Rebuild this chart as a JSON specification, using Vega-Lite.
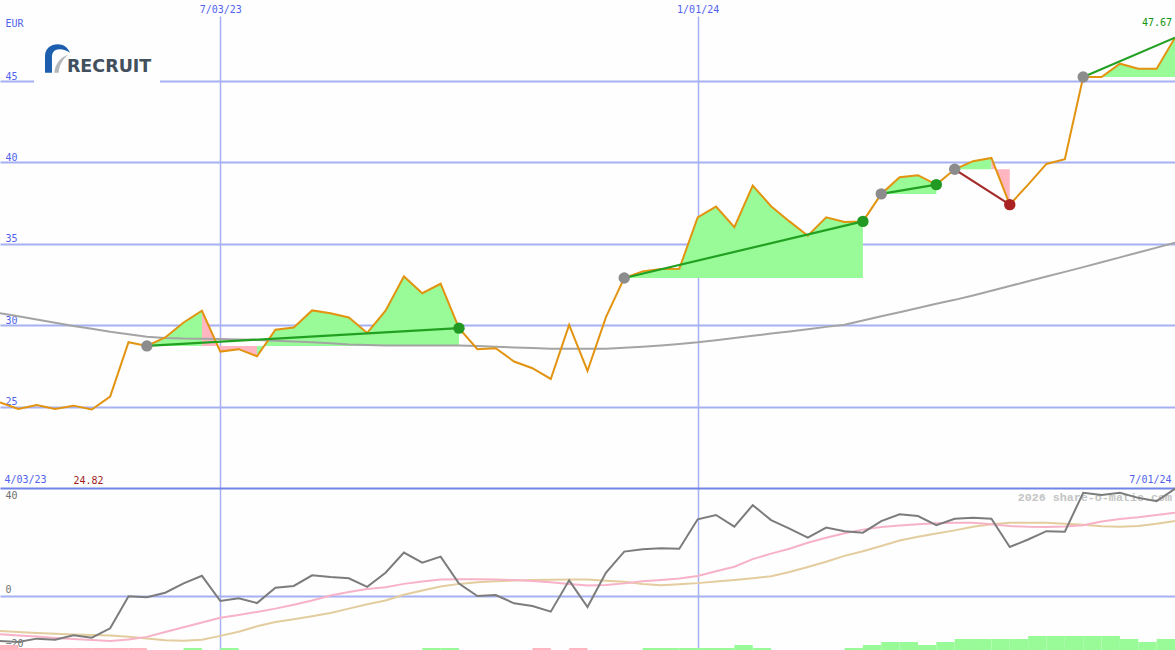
{
  "$schema": "https://vega.github.io/schema/vega-lite/v6.json",
  "background": "#fdfefd",
  "padding": {"top": 4, "left": 0, "right": 0, "bottom": 0},
  "spacing": 0,
  "bounds": "flush",
  "config": {"view": {"stroke": null}, "axis": {"labelBound": false}},
  "datasets": {
    "prices": [
      {"d":"2023-04-10","p":25.25,"ma":30.74,"osc":-17.8,"pk":-15.2,"tn":-13.9},
      {"d":"2023-04-17","p":24.86,"ma":30.55,"osc":-18.2,"pk":-15.7,"tn":-14.3},
      {"d":"2023-04-24","p":25.1,"ma":30.35,"osc":-16.9,"pk":-16.1,"tn":-14.7},
      {"d":"2023-05-01","p":24.86,"ma":30.15,"osc":-17.3,"pk":-16.6,"tn":-15.0},
      {"d":"2023-05-08","p":25.06,"ma":29.95,"osc":-15.6,"pk":-17.0,"tn":-15.3},
      {"d":"2023-05-15","p":24.82,"ma":29.78,"osc":-16.5,"pk":-17.4,"tn":-15.5},
      {"d":"2023-05-22","p":25.62,"ma":29.6,"osc":-12.8,"pk":-17.8,"tn":-15.7},
      {"d":"2023-05-29","p":28.96,"ma":29.45,"osc":-0.1,"pk":-17.2,"tn":-16.2},
      {"d":"2023-06-05","p":28.73,"ma":29.3,"osc":-0.5,"pk":-16.2,"tn":-16.8},
      {"d":"2023-06-12","p":29.25,"ma":29.22,"osc":1.3,"pk":-14.3,"tn":-17.5},
      {"d":"2023-06-19","p":30.17,"ma":29.18,"osc":5.0,"pk":-12.4,"tn":-17.7},
      {"d":"2023-06-26","p":30.89,"ma":29.17,"osc":8.0,"pk":-10.5,"tn":-17.3},
      {"d":"2023-07-03","p":28.38,"ma":29.15,"osc":-2.0,"pk":-8.6,"tn":-15.8},
      {"d":"2023-07-10","p":28.53,"ma":29.12,"osc":-0.9,"pk":-7.5,"tn":-14.2},
      {"d":"2023-07-17","p":28.09,"ma":29.1,"osc":-2.8,"pk":-6.3,"tn":-12.0},
      {"d":"2023-07-24","p":29.72,"ma":29.05,"osc":3.3,"pk":-5.0,"tn":-10.3},
      {"d":"2023-07-31","p":29.86,"ma":29.0,"osc":4.0,"pk":-3.5,"tn":-9.2},
      {"d":"2023-08-07","p":30.91,"ma":28.95,"osc":8.2,"pk":-1.8,"tn":-8.0},
      {"d":"2023-08-14","p":30.74,"ma":28.9,"osc":7.5,"pk":0.2,"tn":-6.7},
      {"d":"2023-08-21","p":30.48,"ma":28.82,"osc":7.0,"pk":1.6,"tn":-5.0},
      {"d":"2023-08-28","p":29.53,"ma":28.78,"osc":3.6,"pk":2.8,"tn":-3.3},
      {"d":"2023-09-04","p":30.89,"ma":28.75,"osc":9.2,"pk":3.5,"tn":-1.8},
      {"d":"2023-09-11","p":33.0,"ma":28.75,"osc":17.2,"pk":4.8,"tn":0.5},
      {"d":"2023-09-18","p":31.97,"ma":28.75,"osc":13.2,"pk":5.7,"tn":2.2},
      {"d":"2023-09-25","p":32.55,"ma":28.75,"osc":15.6,"pk":6.5,"tn":3.8},
      {"d":"2023-10-02","p":29.82,"ma":28.75,"osc":4.9,"pk":6.6,"tn":4.8},
      {"d":"2023-10-09","p":28.53,"ma":28.72,"osc":0.0,"pk":6.6,"tn":5.4},
      {"d":"2023-10-16","p":28.59,"ma":28.68,"osc":0.4,"pk":6.5,"tn":5.8},
      {"d":"2023-10-23","p":27.77,"ma":28.64,"osc":-2.9,"pk":6.3,"tn":6.1},
      {"d":"2023-10-30","p":27.36,"ma":28.6,"osc":-4.0,"pk":5.9,"tn":6.3},
      {"d":"2023-11-06","p":26.7,"ma":28.56,"osc":-6.2,"pk":5.4,"tn":6.4},
      {"d":"2023-11-13","p":30.02,"ma":28.55,"osc":6.2,"pk":4.8,"tn":6.5},
      {"d":"2023-11-20","p":27.19,"ma":28.55,"osc":-4.4,"pk":4.2,"tn":6.5},
      {"d":"2023-11-27","p":30.48,"ma":28.56,"osc":9.2,"pk":4.4,"tn":6.0},
      {"d":"2023-12-04","p":32.9,"ma":28.62,"osc":17.6,"pk":5.0,"tn":5.6},
      {"d":"2023-12-11","p":33.31,"ma":28.68,"osc":18.5,"pk":5.8,"tn":4.8},
      {"d":"2023-12-18","p":33.45,"ma":28.76,"osc":18.9,"pk":6.3,"tn":4.3},
      {"d":"2023-12-25","p":33.47,"ma":28.85,"osc":18.7,"pk":6.9,"tn":4.7},
      {"d":"2024-01-01","p":36.63,"ma":28.95,"osc":30.4,"pk":7.9,"tn":5.1},
      {"d":"2024-01-08","p":37.29,"ma":29.08,"osc":32.1,"pk":9.8,"tn":5.7},
      {"d":"2024-01-15","p":36.02,"ma":29.22,"osc":27.5,"pk":11.6,"tn":6.3},
      {"d":"2024-01-22","p":38.58,"ma":29.35,"osc":36.0,"pk":14.6,"tn":7.0},
      {"d":"2024-01-29","p":37.31,"ma":29.49,"osc":30.1,"pk":16.8,"tn":7.8},
      {"d":"2024-02-05","p":36.38,"ma":29.62,"osc":26.7,"pk":18.7,"tn":9.5},
      {"d":"2024-02-12","p":35.5,"ma":29.76,"osc":23.1,"pk":21.1,"tn":11.5},
      {"d":"2024-02-19","p":36.63,"ma":29.9,"osc":27.1,"pk":23.1,"tn":13.6},
      {"d":"2024-02-26","p":36.34,"ma":30.03,"osc":25.7,"pk":24.9,"tn":15.9},
      {"d":"2024-03-04","p":36.38,"ma":30.29,"osc":25.1,"pk":26.3,"tn":17.7},
      {"d":"2024-03-11","p":38.07,"ma":30.55,"osc":29.7,"pk":27.3,"tn":19.8},
      {"d":"2024-03-18","p":39.09,"ma":30.8,"osc":32.4,"pk":27.9,"tn":22.0},
      {"d":"2024-03-25","p":39.22,"ma":31.06,"osc":31.7,"pk":28.4,"tn":23.5},
      {"d":"2024-04-01","p":38.64,"ma":31.32,"osc":28.1,"pk":28.8,"tn":24.8},
      {"d":"2024-04-08","p":39.58,"ma":31.56,"osc":30.6,"pk":29.0,"tn":26.0},
      {"d":"2024-04-15","p":40.08,"ma":31.83,"osc":31.0,"pk":29.0,"tn":27.4},
      {"d":"2024-04-22","p":40.28,"ma":32.12,"osc":30.6,"pk":28.4,"tn":28.4},
      {"d":"2024-04-29","p":37.41,"ma":32.41,"osc":19.4,"pk":27.7,"tn":29.0},
      {"d":"2024-05-06","p":38.64,"ma":32.7,"osc":22.4,"pk":27.4,"tn":29.0},
      {"d":"2024-05-13","p":39.91,"ma":32.99,"osc":25.7,"pk":27.3,"tn":29.0},
      {"d":"2024-05-20","p":40.2,"ma":33.28,"osc":25.5,"pk":27.5,"tn":28.6},
      {"d":"2024-05-27","p":45.25,"ma":33.57,"osc":40.9,"pk":28.0,"tn":28.2},
      {"d":"2024-06-03","p":45.25,"ma":33.87,"osc":40.0,"pk":29.5,"tn":27.6},
      {"d":"2024-06-10","p":46.07,"ma":34.17,"osc":40.9,"pk":30.5,"tn":27.4},
      {"d":"2024-06-17","p":45.76,"ma":34.47,"osc":38.9,"pk":31.2,"tn":27.7},
      {"d":"2024-06-24","p":45.76,"ma":34.77,"osc":37.6,"pk":32.1,"tn":28.6},
      {"d":"2024-07-01","p":47.67,"ma":35.07,"osc":42.5,"pk":33.0,"tn":29.7}
    ],
    "fills": [
      {"run":1,"d":"2023-06-05","p":28.73,"b":28.73,"c":"up"},
      {"run":1,"d":"2023-06-12","p":29.25,"b":28.73,"c":"up"},
      {"run":1,"d":"2023-06-19","p":30.17,"b":28.73,"c":"up"},
      {"run":1,"d":"2023-06-26","p":30.89,"b":28.73,"c":"up"},
      {"run":2,"d":"2023-06-26","p":30.89,"b":28.73,"c":"down"},
      {"run":2,"d":"2023-07-03","p":28.38,"b":28.73,"c":"down"},
      {"run":2,"d":"2023-07-10","p":28.53,"b":28.73,"c":"down"},
      {"run":2,"d":"2023-07-17","p":28.09,"b":28.73,"c":"down"},
      {"run":3,"d":"2023-07-17","p":28.09,"b":28.73,"c":"up"},
      {"run":3,"d":"2023-07-24","p":29.72,"b":28.73,"c":"up"},
      {"run":3,"d":"2023-07-31","p":29.86,"b":28.73,"c":"up"},
      {"run":3,"d":"2023-08-07","p":30.91,"b":28.73,"c":"up"},
      {"run":3,"d":"2023-08-14","p":30.74,"b":28.73,"c":"up"},
      {"run":3,"d":"2023-08-21","p":30.48,"b":28.73,"c":"up"},
      {"run":3,"d":"2023-08-28","p":29.53,"b":28.73,"c":"up"},
      {"run":3,"d":"2023-09-04","p":30.89,"b":28.73,"c":"up"},
      {"run":3,"d":"2023-09-11","p":33.0,"b":28.73,"c":"up"},
      {"run":3,"d":"2023-09-18","p":31.97,"b":28.73,"c":"up"},
      {"run":3,"d":"2023-09-25","p":32.55,"b":28.73,"c":"up"},
      {"run":3,"d":"2023-10-02","p":29.82,"b":28.73,"c":"up"},
      {"run":4,"d":"2023-12-04","p":32.9,"b":32.9,"c":"up"},
      {"run":4,"d":"2023-12-11","p":33.31,"b":32.9,"c":"up"},
      {"run":4,"d":"2023-12-18","p":33.45,"b":32.9,"c":"up"},
      {"run":4,"d":"2023-12-25","p":33.47,"b":32.9,"c":"up"},
      {"run":4,"d":"2024-01-01","p":36.63,"b":32.9,"c":"up"},
      {"run":4,"d":"2024-01-08","p":37.29,"b":32.9,"c":"up"},
      {"run":4,"d":"2024-01-15","p":36.02,"b":32.9,"c":"up"},
      {"run":4,"d":"2024-01-22","p":38.58,"b":32.9,"c":"up"},
      {"run":4,"d":"2024-01-29","p":37.31,"b":32.9,"c":"up"},
      {"run":4,"d":"2024-02-05","p":36.38,"b":32.9,"c":"up"},
      {"run":4,"d":"2024-02-12","p":35.5,"b":32.9,"c":"up"},
      {"run":4,"d":"2024-02-19","p":36.63,"b":32.9,"c":"up"},
      {"run":4,"d":"2024-02-26","p":36.34,"b":32.9,"c":"up"},
      {"run":4,"d":"2024-03-04","p":36.38,"b":32.9,"c":"up"},
      {"run":5,"d":"2024-03-11","p":38.07,"b":38.07,"c":"up"},
      {"run":5,"d":"2024-03-18","p":39.09,"b":38.07,"c":"up"},
      {"run":5,"d":"2024-03-25","p":39.22,"b":38.07,"c":"up"},
      {"run":5,"d":"2024-04-01","p":38.64,"b":38.07,"c":"up"},
      {"run":6,"d":"2024-04-08","p":39.58,"b":39.58,"c":"up"},
      {"run":6,"d":"2024-04-15","p":40.08,"b":39.58,"c":"up"},
      {"run":6,"d":"2024-04-22","p":40.28,"b":39.58,"c":"up"},
      {"run":7,"d":"2024-04-22","p":40.28,"b":39.58,"c":"down"},
      {"run":7,"d":"2024-04-29","p":37.41,"b":39.58,"c":"down"},
      {"run":8,"d":"2024-05-27","p":45.25,"b":45.25,"c":"up"},
      {"run":8,"d":"2024-06-03","p":45.25,"b":45.25,"c":"up"},
      {"run":8,"d":"2024-06-10","p":46.07,"b":45.25,"c":"up"},
      {"run":8,"d":"2024-06-17","p":45.76,"b":45.25,"c":"up"},
      {"run":8,"d":"2024-06-24","p":45.76,"b":45.25,"c":"up"},
      {"run":8,"d":"2024-07-01","p":47.67,"b":45.25,"c":"up"}
    ],
    "signals": [
      {"sig":1,"d":"2023-06-05","p":28.73,"dir":"up","m":"start"},
      {"sig":1,"d":"2023-10-02","p":29.82,"dir":"up","m":"up"},
      {"sig":2,"d":"2023-12-04","p":32.9,"dir":"up","m":"start"},
      {"sig":2,"d":"2024-03-04","p":36.38,"dir":"up","m":"up"},
      {"sig":3,"d":"2024-03-11","p":38.07,"dir":"up","m":"start"},
      {"sig":3,"d":"2024-04-01","p":38.64,"dir":"up","m":"up"},
      {"sig":4,"d":"2024-04-08","p":39.58,"dir":"down","m":"start"},
      {"sig":4,"d":"2024-04-29","p":37.41,"dir":"down","m":"down"},
      {"sig":5,"d":"2024-05-27","p":45.25,"dir":"up","m":"start"},
      {"sig":5,"d":"2024-07-01","p":47.67,"dir":"up","m":"open"}
    ],
    "vol": [
      {"d":"2023-04-10","d2":"2023-04-17","v":2,"c":"down"},
      {"d":"2023-04-17","d2":"2023-04-24","v":1,"c":"down"},
      {"d":"2023-04-24","d2":"2023-05-01","v":1,"c":"down"},
      {"d":"2023-05-01","d2":"2023-05-08","v":1,"c":"down"},
      {"d":"2023-05-08","d2":"2023-05-15","v":1,"c":"down"},
      {"d":"2023-05-15","d2":"2023-05-22","v":1,"c":"down"},
      {"d":"2023-05-22","d2":"2023-05-29","v":1,"c":"down"},
      {"d":"2023-05-29","d2":"2023-06-05","v":1,"c":"down"},
      {"d":"2023-06-19","d2":"2023-06-26","v":1,"c":"up"},
      {"d":"2023-07-03","d2":"2023-07-10","v":1,"c":"up"},
      {"d":"2023-09-18","d2":"2023-09-25","v":1,"c":"up"},
      {"d":"2023-09-25","d2":"2023-10-02","v":1,"c":"up"},
      {"d":"2023-10-30","d2":"2023-11-06","v":1,"c":"down"},
      {"d":"2023-11-13","d2":"2023-11-20","v":1,"c":"down"},
      {"d":"2023-12-11","d2":"2023-12-18","v":1,"c":"up"},
      {"d":"2023-12-18","d2":"2023-12-25","v":1,"c":"up"},
      {"d":"2023-12-25","d2":"2024-01-01","v":1,"c":"up"},
      {"d":"2024-01-01","d2":"2024-01-08","v":1,"c":"up"},
      {"d":"2024-01-08","d2":"2024-01-15","v":1,"c":"up"},
      {"d":"2024-01-15","d2":"2024-01-22","v":2,"c":"up"},
      {"d":"2024-01-22","d2":"2024-01-29","v":1,"c":"up"},
      {"d":"2024-02-26","d2":"2024-03-04","v":1,"c":"up"},
      {"d":"2024-03-04","d2":"2024-03-11","v":2,"c":"up"},
      {"d":"2024-03-11","d2":"2024-03-18","v":3,"c":"up"},
      {"d":"2024-03-18","d2":"2024-03-25","v":3,"c":"up"},
      {"d":"2024-03-25","d2":"2024-04-01","v":2,"c":"up"},
      {"d":"2024-04-01","d2":"2024-04-08","v":3,"c":"up"},
      {"d":"2024-04-08","d2":"2024-04-15","v":4,"c":"up"},
      {"d":"2024-04-15","d2":"2024-04-22","v":4,"c":"up"},
      {"d":"2024-04-22","d2":"2024-04-29","v":4,"c":"up"},
      {"d":"2024-04-29","d2":"2024-05-06","v":4,"c":"up"},
      {"d":"2024-05-06","d2":"2024-05-13","v":5,"c":"up"},
      {"d":"2024-05-13","d2":"2024-05-20","v":5,"c":"up"},
      {"d":"2024-05-20","d2":"2024-05-27","v":5,"c":"up"},
      {"d":"2024-05-27","d2":"2024-06-03","v":5,"c":"up"},
      {"d":"2024-06-03","d2":"2024-06-10","v":5,"c":"up"},
      {"d":"2024-06-10","d2":"2024-06-17","v":4,"c":"up"},
      {"d":"2024-06-17","d2":"2024-06-24","v":3,"c":"up"},
      {"d":"2024-06-24","d2":"2024-07-01","v":4,"c":"up"}
    ]
  },
  "vconcat": [
    {
      "width": 1175,
      "height": 472,
      "resolve": {"axis": {"x": "independent", "y": "independent"}},
      "layer": [
        {
          "data": {"values": [{"item": "logo background"}]},
          "mark": {"type": "rect", "color": "#fdfefd"},
          "encoding": {
            "x": {"datum": {"year": 2023, "month": 4, "date": 23, "utc": true}, "type": "temporal", "scale": {"type": "utc", "domain": [{"year": 2023, "month": 4, "date": 10, "utc": true}, {"year": 2024, "month": 7, "date": 1, "utc": true}], "nice": false}, "axis": null},
            "x2": {"datum": {"year": 2023, "month": 6, "date": 10, "utc": true}},
            "y": {"datum": 45.15, "type": "quantitative", "scale": {"domain": [20, 49], "nice": false, "zero": false}, "axis": null},
            "y2": {"datum": 44.85}
          }
        },
        {
          "data": {"name": "fills"},
          "mark": {"type": "area", "clip": true, "opacity": 1},
          "encoding": {
            "x": {"field": "d", "type": "temporal", "scale": {"type": "utc", "domain": [{"year": 2023, "month": 4, "date": 10, "utc": true}, {"year": 2024, "month": 7, "date": 1, "utc": true}], "nice": false}, "axis": null},
            "y": {"field": "p", "type": "quantitative", "scale": {"domain": [20, 49], "nice": false, "zero": false}, "axis": null, "stack": null},
            "y2": {"field": "b"},
            "fill": {"field": "c", "type": "nominal", "scale": {"domain": ["up", "down"], "range": ["#98fb98", "#ffb6c1"]}, "legend": null},
            "detail": {"field": "run", "type": "nominal"}
          }
        },
        {
          "data": {"name": "prices"},
          "mark": {"type": "line", "color": "#a4a4a4", "strokeWidth": 2, "clip": true},
          "encoding": {
            "x": {"field": "d", "type": "temporal", "scale": {"type": "utc", "domain": [{"year": 2023, "month": 4, "date": 10, "utc": true}, {"year": 2024, "month": 7, "date": 1, "utc": true}], "nice": false},
              "axis": {"orient": "top", "values": [{"year": 2023, "month": 7, "date": 3, "utc": true}, {"year": 2024, "month": 1, "date": 1, "utc": true}], "labelExpr": "utcFormat(datum.value, '%-m/%d/%y')", "title": null, "grid": true, "gridColor": "#a6b0f2", "gridWidth": 1.5, "domain": false, "ticks": false, "tickSize": 0, "labelPadding": 2, "labelFont": "DejaVu Sans Mono", "labelFontSize": 10, "labelColor": "#5262ee", "labelOverlap": false, "labelFlush": false}},
            "y": {"field": "ma", "type": "quantitative", "scale": {"domain": [20, 49], "nice": false, "zero": false},
              "axis": {"orient": "left", "values": [25, 30, 35, 40, 45], "title": "EUR", "titleAngle": 0, "titleAlign": "left", "titleBaseline": "alphabetic", "titleX": 5, "titleY": 10, "titleFont": "DejaVu Sans Mono", "titleFontSize": 10, "titleFontWeight": "normal", "titleColor": "#5262ee", "grid": true, "gridColor": "#a6b0f2", "gridWidth": 2, "domain": false, "ticks": false, "tickSize": 0, "labelAlign": "left", "labelBaseline": "alphabetic", "labelPadding": -5, "labelOffset": -2, "labelFont": "DejaVu Sans Mono", "labelFontSize": 10, "labelColor": "#5262ee"}}
          }
        },
        {
          "data": {"name": "prices"},
          "mark": {"type": "line", "color": "#e29310", "strokeWidth": 2, "clip": true},
          "encoding": {
            "x": {"field": "d", "type": "temporal", "scale": {"type": "utc", "domain": [{"year": 2023, "month": 4, "date": 10, "utc": true}, {"year": 2024, "month": 7, "date": 1, "utc": true}], "nice": false},
              "axis": {"orient": "bottom", "values": [{"year": 2023, "month": 4, "date": 10, "utc": true}, {"year": 2024, "month": 7, "date": 1, "utc": true}], "labelExpr": "datum.index == 0 ? '4/03/23' : utcFormat(datum.value, '%-m/%d/%y')", "title": null, "grid": false, "domain": false, "ticks": false, "tickSize": 0, "labelPadding": -4, "labelBaseline": "bottom", "labelFlush": true, "labelFlushOffset": -4, "labelFont": "DejaVu Sans Mono", "labelFontSize": 10, "labelColor": "#5262ee", "labelOverlap": false}},
            "y": {"field": "p", "type": "quantitative", "scale": {"domain": [20, 49], "nice": false, "zero": false}, "axis": null}
          }
        },
        {
          "data": {"name": "signals"},
          "mark": {"type": "line", "strokeWidth": 2.2, "clip": true},
          "encoding": {
            "x": {"field": "d", "type": "temporal", "scale": {"type": "utc", "domain": [{"year": 2023, "month": 4, "date": 10, "utc": true}, {"year": 2024, "month": 7, "date": 1, "utc": true}], "nice": false}, "axis": null},
            "y": {"field": "p", "type": "quantitative", "scale": {"domain": [20, 49], "nice": false, "zero": false}, "axis": null},
            "stroke": {"field": "dir", "type": "nominal", "scale": {"domain": ["up", "down"], "range": ["#22a022", "#a52a2a"]}, "legend": null},
            "detail": {"field": "sig", "type": "nominal"}
          }
        },
        {
          "data": {"name": "signals"},
          "transform": [{"filter": "datum.m != 'open'"}],
          "mark": {"type": "point", "filled": true, "opacity": 1, "size": 130, "clip": true},
          "encoding": {
            "x": {"field": "d", "type": "temporal", "scale": {"type": "utc", "domain": [{"year": 2023, "month": 4, "date": 10, "utc": true}, {"year": 2024, "month": 7, "date": 1, "utc": true}], "nice": false}, "axis": null},
            "y": {"field": "p", "type": "quantitative", "scale": {"domain": [20, 49], "nice": false, "zero": false}, "axis": null},
            "color": {"field": "m", "type": "nominal", "scale": {"domain": ["start", "up", "down"], "range": ["#8c8c8c", "#229922", "#aa2222"]}, "legend": null}
          }
        },
        {
          "data": {"name": "prices"},
          "transform": [{"joinaggregate": [{"op": "max", "field": "d", "as": "dmax"}]}, {"filter": "datum.d === datum.dmax"}],
          "mark": {"type": "text", "align": "right", "baseline": "alphabetic", "dx": -3, "dy": -12, "font": "DejaVu Sans Mono", "fontSize": 10, "color": "#149414"},
          "encoding": {
            "x": {"field": "d", "type": "temporal", "scale": {"type": "utc", "domain": [{"year": 2023, "month": 4, "date": 10, "utc": true}, {"year": 2024, "month": 7, "date": 1, "utc": true}], "nice": false}, "axis": null},
            "y": {"field": "p", "type": "quantitative", "scale": {"domain": [20, 49], "nice": false, "zero": false}, "axis": null},
            "text": {"field": "p", "type": "quantitative", "format": ".2f"}
          }
        },
        {
          "data": {"name": "prices"},
          "transform": [{"aggregate": [{"op": "min", "field": "p", "as": "pmin"}]}],
          "mark": {"type": "text", "align": "left", "baseline": "alphabetic", "font": "DejaVu Sans Mono", "fontSize": 10, "color": "#a01c1c"},
          "encoding": {
            "x": {"datum": {"year": 2023, "month": 5, "date": 8, "utc": true}, "type": "temporal", "scale": {"type": "utc", "domain": [{"year": 2023, "month": 4, "date": 10, "utc": true}, {"year": 2024, "month": 7, "date": 1, "utc": true}], "nice": false}, "axis": null},
            "y": {"datum": 20.25, "type": "quantitative", "scale": {"domain": [20, 49], "nice": false, "zero": false}, "axis": null},
            "text": {"field": "pmin", "type": "quantitative", "format": ".2f"}
          }
        },
        {
          "data": {"values": [{"part": "logo arc"}]},
          "mark": {"type": "point", "filled": true, "opacity": 1, "size": 841, "color": "#1d5fae", "shape": "M-0.86,0.98 L-0.86,-0.15 C-0.86,-0.7 -0.45,-0.98 0.02,-0.98 C0.42,-0.98 0.72,-0.78 0.86,-0.38 C0.62,-0.58 0.3,-0.66 0.02,-0.62 C-0.25,-0.58 -0.38,-0.38 -0.38,-0.1 L-0.38,0.98 Z"},
          "encoding": {
            "x": {"datum": {"year": 2023, "month": 5, "date": 1, "hours": 22, "utc": true}, "type": "temporal", "scale": {"type": "utc", "domain": [{"year": 2023, "month": 4, "date": 10, "utc": true}, {"year": 2024, "month": 7, "date": 1, "utc": true}], "nice": false}, "axis": null},
            "y": {"datum": 46.39, "type": "quantitative", "scale": {"domain": [20, 49], "nice": false, "zero": false}, "axis": null}
          }
        },
        {
          "data": {"values": [{"part": "logo swoosh"}]},
          "mark": {"type": "point", "filled": true, "opacity": 1, "size": 841, "color": "#b4b8bc", "shape": "M-0.22,0.98 C-0.15,0.35 0.25,-0.12 0.75,-0.25 C0.4,0.0 0.12,0.45 0.08,0.98 Z"},
          "encoding": {
            "x": {"datum": {"year": 2023, "month": 5, "date": 1, "hours": 22, "utc": true}, "type": "temporal", "scale": {"type": "utc", "domain": [{"year": 2023, "month": 4, "date": 10, "utc": true}, {"year": 2024, "month": 7, "date": 1, "utc": true}], "nice": false}, "axis": null},
            "y": {"datum": 46.39, "type": "quantitative", "scale": {"domain": [20, 49], "nice": false, "zero": false}, "axis": null}
          }
        },
        {
          "data": {"values": [{"t": "RECRUIT"}]},
          "mark": {"type": "text", "align": "left", "baseline": "alphabetic", "font": "DejaVu Sans", "fontWeight": "bold", "fontSize": 17.5, "color": "#42505e"},
          "encoding": {
            "x": {"datum": {"year": 2023, "month": 5, "date": 5, "hours": 12, "utc": true}, "type": "temporal", "scale": {"type": "utc", "domain": [{"year": 2023, "month": 4, "date": 10, "utc": true}, {"year": 2024, "month": 7, "date": 1, "utc": true}], "nice": false}, "axis": null},
            "y": {"datum": 45.53, "type": "quantitative", "scale": {"domain": [20, 49], "nice": false, "zero": false}, "axis": null},
            "text": {"field": "t"}
          }
        }
      ]
    },
    {
      "width": 1175,
      "height": 163,
      "resolve": {"scale": {"y": "independent"}, "axis": {"x": "independent", "y": "independent"}},
      "layer": [
        {
          "data": {"name": "vol", "format": {"parse": {"d": "date", "d2": "date"}}},
          "mark": {"type": "rect", "clip": true},
          "encoding": {
            "x": {"field": "d", "type": "temporal", "scale": {"type": "utc", "domain": [{"year": 2023, "month": 4, "date": 10, "utc": true}, {"year": 2024, "month": 7, "date": 1, "utc": true}], "nice": false}, "axis": null},
            "x2": {"field": "d2"},
            "y": {"field": "v", "type": "quantitative", "scale": {"domain": [0, 54.33], "nice": false}, "axis": null},
            "y2": {"datum": 0},
            "fill": {"field": "c", "type": "nominal", "scale": {"domain": ["up", "down"], "range": ["#98fb98", "#ffb6c1"]}, "legend": null}
          }
        },
        {
          "resolve": {"axis": {"x": "independent", "y": "independent"}},
          "layer": [
            {
              "data": {"values": [{"t": "2026 share-o-matic.com"}]},
              "mark": {"type": "text", "align": "right", "baseline": "middle", "dx": -3, "font": "Liberation Mono", "fontWeight": "bold", "fontSize": 11.7, "color": "#c4c4c4"},
              "encoding": {
                "x": {"datum": {"year": 2024, "month": 7, "date": 1, "utc": true}, "type": "temporal", "scale": {"type": "utc", "domain": [{"year": 2023, "month": 4, "date": 10, "utc": true}, {"year": 2024, "month": 7, "date": 1, "utc": true}], "nice": false}, "axis": null},
                "y": {"datum": 39.23, "type": "quantitative", "scale": {"domain": [-21.8, 42.8], "nice": false, "zero": false}, "axis": null},
                "text": {"field": "t"}
              }
            },
            {
              "data": {"name": "prices"},
              "mark": {"type": "line", "color": "#e3cc9e", "strokeWidth": 2, "clip": true},
              "encoding": {
                "x": {"field": "d", "type": "temporal", "scale": {"type": "utc", "domain": [{"year": 2023, "month": 4, "date": 10, "utc": true}, {"year": 2024, "month": 7, "date": 1, "utc": true}], "nice": false}, "axis": null},
                "y": {"field": "tn", "type": "quantitative", "scale": {"domain": [-21.8, 42.8], "nice": false, "zero": false}, "axis": null}
              }
            },
            {
              "data": {"name": "prices"},
              "mark": {"type": "line", "color": "#f7b2c8", "strokeWidth": 2, "clip": true},
              "encoding": {
                "x": {"field": "d", "type": "temporal", "scale": {"type": "utc", "domain": [{"year": 2023, "month": 4, "date": 10, "utc": true}, {"year": 2024, "month": 7, "date": 1, "utc": true}], "nice": false}, "axis": null},
                "y": {"field": "pk", "type": "quantitative", "scale": {"domain": [-21.8, 42.8], "nice": false, "zero": false}, "axis": null}
              }
            },
            {
              "data": {"name": "prices"},
              "mark": {"type": "line", "color": "#7c7c7c", "strokeWidth": 2, "clip": true},
              "encoding": {
                "x": {"field": "d", "type": "temporal", "scale": {"type": "utc", "domain": [{"year": 2023, "month": 4, "date": 10, "utc": true}, {"year": 2024, "month": 7, "date": 1, "utc": true}], "nice": false},
                  "axis": {"orient": "top", "values": [{"year": 2023, "month": 7, "date": 3, "utc": true}, {"year": 2024, "month": 1, "date": 1, "utc": true}], "labels": false, "ticks": false, "tickSize": 0, "title": null, "grid": true, "gridColor": "#a6b0f2", "gridWidth": 1.5, "domain": true, "domainColor": "#7384e8", "domainWidth": 2}},
                "y": {"field": "osc", "type": "quantitative", "scale": {"domain": [-21.8, 42.8], "nice": false, "zero": false},
                  "axis": {"orient": "left", "values": [40, 0, -20], "title": null, "grid": true, "gridColor": "#a6b0f2", "gridWidth": 2, "gridOpacity": {"condition": {"test": "datum.value === 0", "value": 1}, "value": 0}, "domain": false, "ticks": false, "tickSize": 0, "labelAlign": "left", "labelPadding": -5, "labelBaseline": {"condition": {"test": "datum.value === 40", "value": "middle"}, "value": "alphabetic"}, "labelOffset": {"condition": {"test": "datum.value === 0", "value": -3}, "value": 0}, "labelFont": "DejaVu Sans Mono", "labelFontSize": 10, "labelColor": "#707070"}}
              }
            }
          ]
        }
      ]
    }
  ]
}
